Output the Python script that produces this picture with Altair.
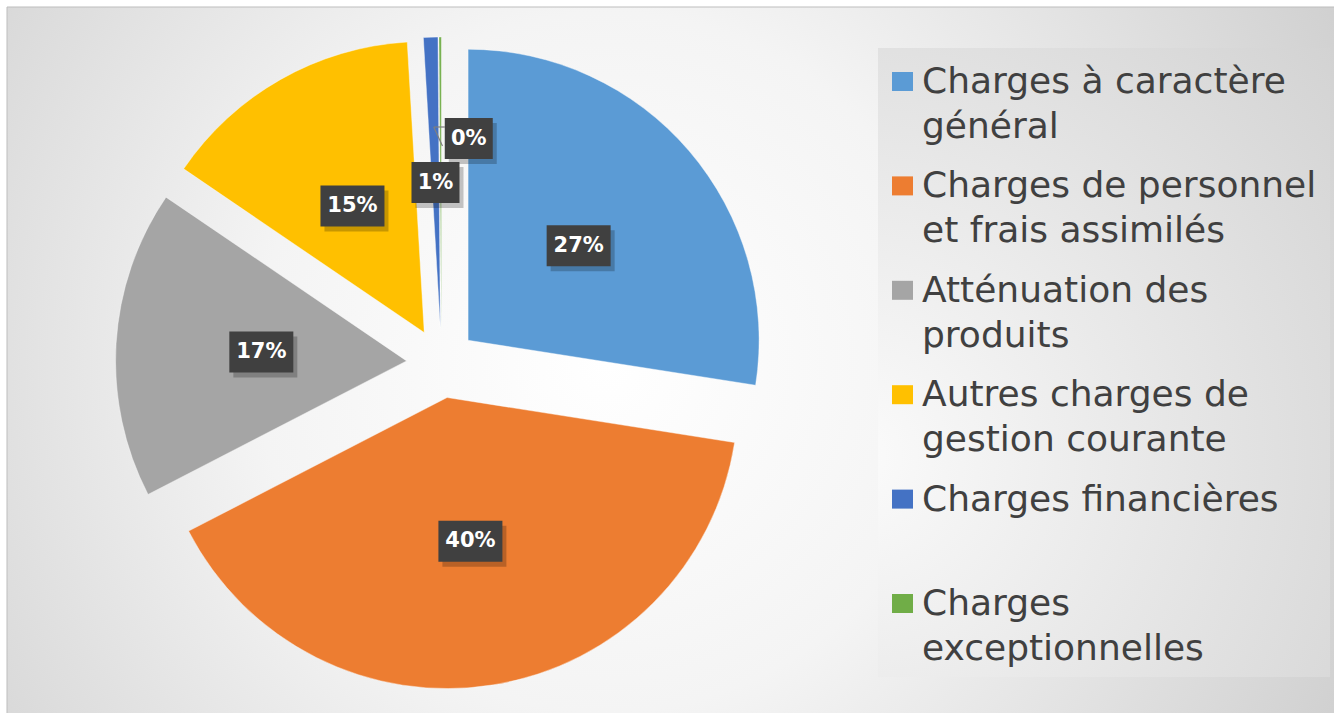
import math
import altair as alt
import pandas as pd

# ---------------- data ----------------
categories = [
    "Charges à caractère général",
    "Charges de personnel et frais assimilés",
    "Atténuation des produits",
    "Autres charges de gestion courante",
    "Charges financières",
    "Charges exceptionnelles",
]
shares = [27.47, 39.94, 17.10, 14.56, 0.80, 0.13]
colors = ["#5B9BD5", "#ED7D31", "#A5A5A5", "#FFC000", "#4472C4", "#70AD47"]
legend_text = [
    "Charges à caractère\ngénéral",
    "Charges de personnel\net frais assimilés",
    "Atténuation des\nproduits",
    "Autres charges de\ngestion courante",
    "Charges financières",
    "Charges\nexceptionnelles",
]
# label moved away from the crowded top (Excel-style manual placement)
label_nudge = {"Charges exceptionnelles": (28, -44)}

# ---------------- layout / style ----------------
W, H = 1334, 713
CX, CY = 441.5, 363.0
R = 291
EXPLODE = 35
LABEL_R = 180.5
FONT = "DejaVu Sans"

df = pd.DataFrame({
    "cat": categories,
    "share": shares,
    "order": list(range(len(categories))),
    "ndx": [label_nudge.get(c, (0, 0))[0] for c in categories],
    "ndy": [label_nudge.get(c, (0, 0))[1] for c in categories],
})

geo = alt.Chart(df).transform_window(
    cum="sum(share)", sort=[alt.SortField("order")], frame=[None, 0]
).transform_calculate(
    start="datum.cum - datum.share",
    mid="(datum.cum - datum.share / 2) / 100 * 2 * PI",
).transform_calculate(
    cx=f"{CX} + {EXPLODE} * sin(datum.mid)",
    cy=f"{CY} - {EXPLODE} * cos(datum.mid)",
    lx=f"{CX} + {LABEL_R} * sin(datum.mid) + datum.ndx",
    ly=f"{CY} - {LABEL_R} * cos(datum.mid) + datum.ndy",
    lab="format(datum.share / 100, '.0%')",
).transform_calculate(
    bw="16 + 16 * length(datum.lab)",
).transform_calculate(
    bx0="datum.lx - datum.bw / 2",
    bx1="datum.lx + datum.bw / 2",
    by0="datum.ly - 20.5",
    by1="datum.ly + 20.5",
    sx0="datum.lx - datum.bw / 2 + 4",
    sx1="datum.lx + datum.bw / 2 + 4",
    sy0="datum.ly - 20.5 + 5",
    sy1="datum.ly + 20.5 + 5",
)

px = lambda f: alt.X(f, scale=None, axis=None)
py = lambda f: alt.Y(f, scale=None, axis=None)

one = pd.DataFrame({"k": [0]})

frame = alt.Chart(one).mark_rect(
    fill=alt.Gradient(
        gradient="radial",
        stops=[
            alt.GradientStop(color="#ffffff", offset=0),
            alt.GradientStop(color="#f4f4f4", offset=0.35),
            alt.GradientStop(color="#c2c2c2", offset=1),
        ],
        x1=0.45, y1=0.5, r1=0, x2=0.45, y2=0.5, r2=0.75,
    ),
    stroke="#bdbdbd",
    strokeWidth=1,
).encode(
    x=alt.value(7), x2=alt.value(W + 5), y=alt.value(7), y2=alt.value(H + 5)
)

legend_bg = alt.Chart(one).mark_rect(
    fill=alt.Gradient(
        gradient="radial",
        stops=[
            alt.GradientStop(color="#fbfbfb", offset=0),
            alt.GradientStop(color="#d3d3d3", offset=1),
        ],
        x1=0.1, y1=0.65, r1=0, x2=0.1, y2=0.65, r2=1.0,
    ),
).encode(
    x=alt.value(878), x2=alt.value(1330), y=alt.value(48), y2=alt.value(677)
)

pie = geo.mark_arc(radius=R, stroke="#ffffff", strokeWidth=0.8, strokeOpacity=0.5).encode(
    x=px("cx:Q"),
    y=py("cy:Q"),
    theta=alt.Theta("start:Q", scale=alt.Scale(domain=[0, 100], range=[0, 2 * math.pi]), stack=None),
    theta2="cum:Q",
    color=alt.Color("cat:N", scale=alt.Scale(domain=categories, range=colors), legend=None),
)

shadow = geo.mark_rect(color="#000000", opacity=0.22).encode(
    x=px("sx0:Q"), x2="sx1:Q", y=py("sy0:Q"), y2="sy1:Q"
)
box = geo.mark_rect(color="#404040").encode(
    x=px("bx0:Q"), x2="bx1:Q", y=py("by0:Q"), y2="by1:Q"
)
label = geo.mark_text(
    font=FONT, fontSize=21, fontWeight="bold", color="#ffffff", align="center", baseline="middle"
).encode(x=px("lx:Q"), y=py("ly:Q"), text="lab:N")

lead = geo.transform_filter(
    "datum.ndx != 0 || datum.ndy != 0"
).transform_calculate(
    a_x="datum.bx0", a_y="datum.by0 + 9",
    b_x="datum.bx0 - 11", b_y="datum.by0 + 9",
    c_x="datum.bx0 - 2.3", c_y="datum.by0 + 28",
)
lead1 = lead.mark_rule(color="#7f7f7f", strokeWidth=1.2).encode(
    x=px("a_x:Q"), y=py("a_y:Q"), x2="b_x:Q", y2="b_y:Q"
)
lead2 = lead.mark_rule(color="#7f7f7f", strokeWidth=1.2).encode(
    x=px("b_x:Q"), y=py("b_y:Q"), x2="c_x:Q", y2="c_y:Q"
)

leg_df = pd.DataFrame({"cat": categories, "txt": legend_text, "idx": list(range(len(categories)))})
leg = alt.Chart(leg_df).transform_calculate(
    ty="93 + 104.4 * datum.idx",
    sy="81.5 + 104.4 * datum.idx",
)
leg_sq = leg.mark_rect(width=21, height=19).encode(
    x=alt.value(902.5),
    y=py("sy:Q"),
    color=alt.Color("cat:N", scale=alt.Scale(domain=categories, range=colors), legend=None),
)
leg_txt = leg.mark_text(
    font=FONT, fontSize=36, color="#404040", align="left", baseline="alphabetic",
    lineBreak="\n", lineHeight=45,
).encode(x=alt.value(922), y=py("ty:Q"), text="txt:N")

chart = alt.layer(
    frame, legend_bg, pie, lead1, lead2, shadow, box, label, leg_sq, leg_txt
).properties(
    width=W, height=H, padding=0, autosize=alt.AutoSizeParams(type="none"), background="#ffffff"
).configure_view(stroke=None)

chart.save("out.html", embed_options={"renderer": "svg", "actions": False})
